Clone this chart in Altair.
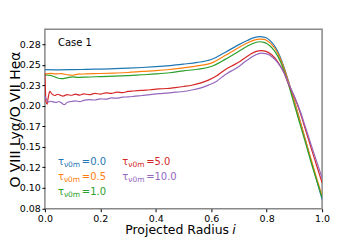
import altair as alt
import pandas as pd

# ---------------- data ----------------
series_names = ["0.0", "0.5", "1.0", "5.0", "10.0"]
series_colors = ["#1f77b4", "#ff7f0e", "#2ca02c", "#d62728", "#9467bd"]

blue_r = [0.0, 0.05, 0.1, 0.15, 0.2, 0.25, 0.3, 0.35, 0.4, 0.45, 0.5, 0.55, 0.6, 0.65, 0.7, 0.73,
          0.755, 0.775, 0.79, 0.8, 0.81, 0.82, 0.83, 0.84, 0.85, 0.86, 0.87, 0.88, 0.89, 0.9,
          0.92, 0.94, 0.96, 0.98, 1.0]
blue_v = [0.2440, 0.2438, 0.2440, 0.2443, 0.2447, 0.2452, 0.2458, 0.2466, 0.2476, 0.2489, 0.2507,
          0.2528, 0.2563, 0.2650, 0.2745, 0.2795, 0.2830, 0.2842, 0.2837, 0.2825, 0.2800, 0.2765,
          0.2720, 0.2660, 0.2585, 0.2495, 0.2395, 0.2285, 0.2170, 0.2055, 0.1820, 0.1580, 0.1340,
          0.1100, 0.0860]

orange_r = [0.0, 0.02, 0.04, 0.06, 0.08, 0.1, 0.12, 0.15, 0.2, 0.25, 0.3, 0.35, 0.4, 0.45, 0.5,
            0.55, 0.6, 0.65, 0.7, 0.73, 0.755, 0.775, 0.79, 0.8, 0.81, 0.82, 0.83, 0.84, 0.85,
            0.86, 0.87, 0.88, 0.89, 0.9, 0.92, 0.94, 0.96, 0.98, 1.0]
orange_v = [0.2385, 0.2395, 0.2388, 0.2392, 0.2378, 0.2372, 0.2385, 0.2388, 0.2393, 0.2398, 0.2405,
            0.2418, 0.2428, 0.2442, 0.2462, 0.2485, 0.2520, 0.2612, 0.2710, 0.2765, 0.2800,
            0.2812, 0.2808, 0.2796, 0.2772, 0.2740, 0.2698, 0.2640, 0.2568, 0.2482, 0.2385,
            0.2278, 0.2165, 0.2052, 0.1820, 0.1585, 0.1350, 0.1120, 0.0900]

green_r = [0.0, 0.02, 0.04, 0.06, 0.08, 0.1, 0.12, 0.15, 0.2, 0.25, 0.3, 0.35, 0.4, 0.45, 0.5,
           0.55, 0.6, 0.65, 0.7, 0.73, 0.755, 0.775, 0.79, 0.8, 0.81, 0.82, 0.83, 0.84, 0.85,
           0.86, 0.87, 0.88, 0.89, 0.9, 0.92, 0.94, 0.96, 0.98, 1.0]
green_v = [0.2375, 0.2370, 0.2345, 0.2330, 0.2340, 0.2352, 0.2345, 0.2350, 0.2355, 0.2360, 0.2368,
           0.2378, 0.2388, 0.2402, 0.2425, 0.2445, 0.2478, 0.2565, 0.2665, 0.2725, 0.2765,
           0.2780, 0.2772, 0.2758, 0.2735, 0.2703, 0.2660, 0.2605, 0.2535, 0.2452, 0.2355,
           0.2245, 0.2130, 0.2012, 0.1780, 0.1550, 0.1315, 0.1095, 0.0880]

red_r = [0.0, 0.004, 0.008, 0.012, 0.018, 0.025, 0.035, 0.045, 0.055, 0.065, 0.08, 0.095, 0.11,
         0.125, 0.14, 0.16, 0.18, 0.2, 0.22, 0.24, 0.26, 0.28, 0.3, 0.32, 0.35, 0.38, 0.41, 0.44,
         0.47, 0.5, 0.53, 0.56, 0.59, 0.62, 0.64, 0.66, 0.68, 0.70, 0.72, 0.74, 0.76, 0.78, 0.8,
         0.82, 0.84, 0.86, 0.88, 0.9, 0.92, 0.94, 0.96, 0.98, 1.0]
red_v = [0.2400, 0.2050, 0.2020, 0.2100, 0.2175, 0.2145, 0.2125, 0.2140, 0.2130, 0.2118, 0.2135,
         0.2128, 0.2142, 0.2130, 0.2145, 0.2135, 0.2150, 0.2142, 0.2158, 0.2152, 0.2165, 0.2160,
         0.2175, 0.2180, 0.2188, 0.2195, 0.2205, 0.2210, 0.2222, 0.2235, 0.2250, 0.2275, 0.2312,
         0.2365, 0.2415, 0.2460, 0.2495, 0.2532, 0.2580, 0.2625, 0.2660, 0.2673, 0.2660, 0.2615,
         0.2535, 0.2420, 0.2255, 0.2105, 0.1925, 0.1710, 0.1490, 0.1275, 0.1060]

purple_r = [0.0, 0.006, 0.012, 0.02, 0.03, 0.04, 0.05, 0.06, 0.07, 0.08, 0.095, 0.11, 0.125, 0.14,
            0.16, 0.18, 0.2, 0.22, 0.24, 0.26, 0.28, 0.3, 0.32, 0.35, 0.38, 0.41, 0.44, 0.47, 0.5,
            0.53, 0.56, 0.59, 0.62, 0.64, 0.66, 0.68, 0.70, 0.72, 0.74, 0.76, 0.78, 0.8, 0.82,
            0.84, 0.86, 0.88, 0.9, 0.92, 0.94, 0.96, 0.98, 1.0]
purple_v = [0.2120, 0.2070, 0.2045, 0.2055, 0.2048, 0.2040, 0.2052, 0.2035, 0.2013, 0.2040, 0.2052,
            0.2060, 0.2050, 0.2065, 0.2075, 0.2070, 0.2085, 0.2080, 0.2095, 0.2092, 0.2105, 0.2108,
            0.2114, 0.2125, 0.2135, 0.2148, 0.2155, 0.2165, 0.2174, 0.2192, 0.2215, 0.2252,
            0.2300, 0.2352, 0.2400, 0.2437, 0.2478, 0.2532, 0.2580, 0.2620, 0.2641, 0.2632,
            0.2595, 0.2525, 0.2420, 0.2265, 0.2115, 0.1945, 0.1740, 0.1530, 0.1325, 0.1120]

y_tick_values = [0.075, 0.1, 0.125, 0.15, 0.175, 0.2, 0.225, 0.25, 0.275]
y_tick_labels = ["0.08", "0.10", "0.12", "0.15", "0.17", "0.20", "0.23", "0.25", "0.28"]
x_tick_values = [0.0, 0.2, 0.4, 0.6, 0.8, 1.0]

legend_x = [0.047, 0.047, 0.047, 0.279, 0.279]
legend_y = [0.1312, 0.1130, 0.0948, 0.1312, 0.1130]

# ---------------- tables ----------------
rows = []
for name, rr, vv in zip(series_names,
                        [blue_r, orange_r, green_r, red_r, purple_r],
                        [blue_v, orange_v, green_v, red_v, purple_v]):
    for i, (a, b) in enumerate(zip(rr, vv)):
        rows.append({"tau": name, "r": a, "v": b, "o": i})
df = pd.DataFrame(rows)

leg = pd.DataFrame({"tau": series_names, "r": legend_x, "v": legend_y,
                    "eq": ["=" + s for s in series_names]})
case_df = pd.DataFrame({"r": [0.047], "v": [0.2762], "t": ["Case 1"]})

label_expr = ""
for i, lab in enumerate(y_tick_labels[:-1]):
    mid = (y_tick_values[i] + y_tick_values[i + 1]) / 2
    label_expr += f"datum.value < {mid} ? '{lab}' : "
label_expr += f"'{y_tick_labels[-1]}'"

FONT = "DejaVu Sans"
xdom = [0, 1]
ydom = [0.0745, 0.2932]
xs = alt.Scale(domain=xdom, nice=False, zero=False)
ys = alt.Scale(domain=ydom, nice=False, zero=False)
color = alt.Color("tau:N", scale=alt.Scale(domain=series_names, range=series_colors), legend=None)

xaxis = alt.Axis(values=x_tick_values, format=".1f", title="Projected Radius",
                 labelFlush=False, labelOverlap=False,
                 titleFontSize=12.5, titleFont=FONT, titleFontWeight="normal",
                 titleAlign="left", titleAnchor="start", titleX=80, titleY=25,
                 titleBaseline="alphabetic", titleColor="black")
yaxis = alt.Axis(values=y_tick_values, labelExpr=label_expr,
                 labelFlush=False, labelOverlap=False,
                 title="O VIII Lyα/O VII Heα", titleFontSize=14, titleFont=FONT,
                 titleFontWeight="normal", titleX=-29, titleBaseline="middle",
                 titleColor="black")
xenc = alt.X("r:Q", scale=xs, axis=xaxis)
yenc = alt.Y("v:Q", scale=ys, axis=yaxis)

lines = alt.Chart(df).mark_line(strokeWidth=1.2, interpolate="monotone", clip=True).encode(
    x=xenc, y=yenc, color=color, order="o:Q", detail="tau:N")

tau_txt = alt.Chart(leg).mark_text(align="left", baseline="middle", fontSize=10, font=FONT).encode(
    x=xenc, y=yenc, text=alt.value("τ"), color=color)
sub_txt = alt.Chart(leg).mark_text(align="left", baseline="middle", fontSize=7.5, font=FONT,
                                   dx=6, dy=2.5).encode(
    x=xenc, y=yenc, text=alt.value("ν0m"), color=color)
eq_txt = alt.Chart(leg).mark_text(align="left", baseline="middle", fontSize=10, font=FONT,
                                  dx=24).encode(
    x=xenc, y=yenc, text="eq:N", color=color)

case_txt = alt.Chart(case_df).mark_text(
    align="left", baseline="middle", fontSize=10, font=FONT, color="black").encode(
    x=xenc, y=yenc, text="t:N")

ital = alt.Chart(pd.DataFrame({"t": ["i"]})).mark_text(
    align="left", baseline="alphabetic", fontSize=12.5, font=FONT, fontStyle="italic",
    color="black").encode(x=alt.value(188), y=alt.value(205), text="t:N")

chart = alt.layer(lines, tau_txt, sub_txt, eq_txt, case_txt, ital).properties(
    width=278, height=180,
    autosize=alt.AutoSizeParams(type="none"),
    padding={"left": 37, "top": 21, "right": 30, "bottom": 30},
).configure_view(stroke="#888888", strokeWidth=1.5).configure_axis(
    domain=False, grid=False, labelFont=FONT, labelFontSize=9.5, labelColor="black",
    tickColor="black", tickSize=3, tickWidth=1, labelPadding=1.5, labelOverlap=False
)

chart.save("out.html", embed_options={"renderer": "svg", "actions": False})
